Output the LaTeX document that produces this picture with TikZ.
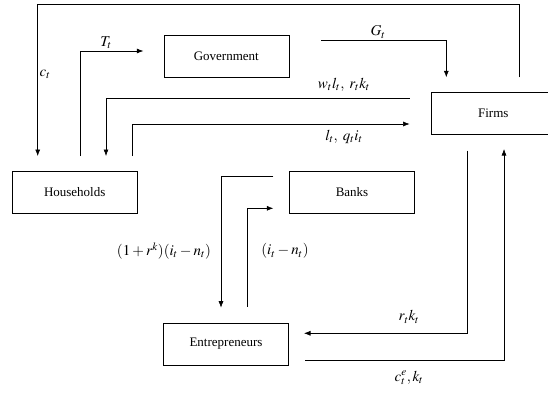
\documentclass[tikz,border=0pt]{standalone}
\usepackage{mathptmx}
\usepackage{fontspec}
\setmainfont{Liberation Serif}
\usetikzlibrary{arrows.meta}
\begin{document}
\begin{tikzpicture}[x=1pt,y=-1pt,
  box/.style={draw,line width=0.6pt,minimum width=125pt,minimum height=42pt,inner sep=0pt,font=\fontsize{13}{15}\selectfont},
  flow/.style={line width=0.6pt,-{Latex[length=6.5pt,width=5pt]}},
  lab/.style={inner sep=0pt,font=\fontsize{15}{17}\selectfont}]
\clip (0,0) rectangle (548,392);
\useasboundingbox (0,0) rectangle (548,392);
% boxes
\node[box] (gov) at (226.3,56.2) {Government};
\node[box] (hh) at (74.7,192.5) {Households};
\node[box] (banks) at (352,192.5) {Banks};
\node[box] (firms) at (493.3,113.7) {Firms};
\node[box] (ent) at (226,344) {Entrepreneurs};
% free ends
\coordinate (c0) at (519.7,77.3);
\coordinate (c1) at (37.7,156);
\coordinate (t0) at (80,156);
\coordinate (t1) at (143.3,51);
\coordinate (g0) at (321,40.7);
\coordinate (g1) at (446.3,77.3);
\coordinate (w0) at (409.6,98.3);
\coordinate (w1) at (106,156);
\coordinate (l0) at (132.5,156);
\coordinate (l1) at (409.6,124);
\coordinate (b0) at (273.3,176);
\coordinate (b1) at (221,307.7);
\coordinate (e0) at (247.5,306.7);
\coordinate (e1) at (273.3,208.3);
\coordinate (r0) at (467.7,150.7);
\coordinate (r1) at (304,333.3);
\coordinate (k0) at (305,360);
\coordinate (k1) at (504,149);
% connectors
\draw[flow] (c0) -- (c0 |- 0,4) -- (c1 |- 0,4) -- (c1);
\draw[flow] (t0) |- (t1);
\draw[flow] (g0) -| (g1);
\draw[flow] (w0) -| (w1);
\draw[flow] (l0) |- (l1);
\draw[flow] (b0) -| (b1);
\draw[flow] (e0) |- (e1);
\draw[flow] (r0) |- (r1);
\draw[flow] (k0) -| (k1);
% labels
\node[lab] (lc) at (45,74) {$c_t$};
\node[lab] (lt) at (106,43) {$T_t$};
\node[lab] (lg) at (378,32) {$G_t$};
\node[lab] (lw) at (344,85) {$w_tl_t,\; r_tk_t$};
\node[lab] (ll) at (344,137) {$l_t,\; q_ti_t$};
\node[lab] (lrk) at (164,251) {$(1+r^k)(i_t-n_t)$};
\node[lab] (lin) at (285,251) {$(i_t-n_t)$};
\node[lab] (lr) at (409,317) {$r_tk_t$};
\node[lab] (lce) at (409,378) {$c_t^e,k_t$};
\end{tikzpicture}
\end{document}
